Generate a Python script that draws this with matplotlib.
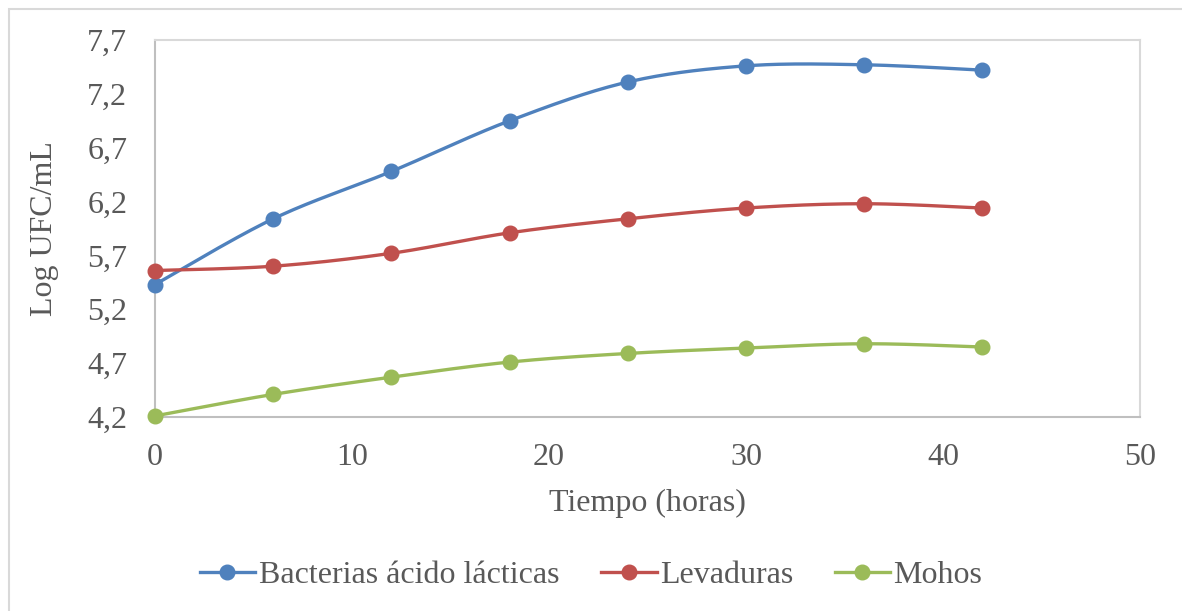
import numpy as np
import matplotlib
matplotlib.use("Agg")
import matplotlib.pyplot as plt
from matplotlib.patches import Rectangle
from matplotlib.lines import Line2D

tiempo = [0, 6, 12, 18, 24, 30, 36, 42]
bacterias = [5.43, 6.04, 6.48, 6.95, 7.31, 7.46, 7.47, 7.42]
levaduras = [5.56, 5.60, 5.72, 5.91, 6.04, 6.14, 6.18, 6.14]
mohos = [4.21, 4.41, 4.57, 4.71, 4.79, 4.84, 4.88, 4.85]
series_names = ["Bacterias ácido lácticas", "Levaduras", "Mohos"]
colors = ["#4F81BD", "#C0504D", "#9BBB59"]
yticks = [4.2, 4.7, 5.2, 5.7, 6.2, 6.7, 7.2, 7.7]
xticks = [0, 10, 20, 30, 40, 50]

plt.rcParams['font.family'] = ['Liberation Serif', 'DejaVu Serif']
txt = "#595959"
fs = 23


def smooth(x, y, n=30):
    x = np.asarray(x, float)
    y = np.asarray(y, float)
    px = np.concatenate([[x[0]], x, [x[-1]]])
    py = np.concatenate([[y[0]], y, [y[-1]]])
    xs, ys = [], []
    t = np.linspace(0, 1, n)
    for i in range(1, len(px) - 2):
        p0 = np.array([px[i], py[i]])
        p3 = np.array([px[i + 1], py[i + 1]])
        c1 = p0 + (np.array([px[i + 1], py[i + 1]]) - np.array([px[i - 1], py[i - 1]])) / 6
        c2 = p3 - (np.array([px[i + 2], py[i + 2]]) - np.array([px[i], py[i]])) / 6
        b = ((1 - t) ** 3)[:, None] * p0 + (3 * (1 - t) ** 2 * t)[:, None] * c1 + \
            (3 * (1 - t) * t ** 2)[:, None] * c2 + (t ** 3)[:, None] * p3
        xs.extend(b[:, 0]); ys.extend(b[:, 1])
    return xs, ys


fig = plt.figure(figsize=(11.82, 6.11), dpi=100)
fig.patches.append(Rectangle((9 / 1182, -0.01), 1.02, 1 - 9 / 611 + 0.01, transform=fig.transFigure,
                             fill=False, edgecolor="#d9d9d9", linewidth=1.5))
ax = fig.add_axes([155 / 1182, 1 - 417 / 611, (1140 - 155) / 1182, (417 - 40) / 611])

for ys, c, name in zip([bacterias, levaduras, mohos], colors, series_names):
    sx, sy = smooth(tiempo, ys)
    ax.plot(sx, sy, color=c, linewidth=2.4, clip_on=False, zorder=3)
    ax.plot(tiempo, ys, linestyle="none", marker="o", markersize=10.5, color=c, clip_on=False, zorder=4)

ax.set_xlim(0, 50)
ax.set_ylim(4.2, 7.7)
ax.set_xticks(xticks)
ax.set_yticks(yticks)
ax.set_yticklabels([f"{v:.1f}".replace(".", ",") for v in yticks])
ax.set_xticklabels([str(v) for v in xticks])
ax.tick_params(length=0, labelsize=fs, labelcolor=txt)
ax.tick_params(axis="y", pad=20)
ax.tick_params(axis="x", pad=19)
for s in ["top", "right"]:
    ax.spines[s].set_color("#d9d9d9")
for s in ["left", "bottom"]:
    ax.spines[s].set_color("#bfbfbf")
for s in ax.spines.values():
    s.set_linewidth(1.5)

ax.set_xlabel("Tiempo (horas)", fontsize=fs, color=txt, labelpad=12)
ax.set_ylabel("Log UFC/mL", fontsize=fs, color=txt, labelpad=20)

handles = [Line2D([0], [0], color=c, linewidth=2.4, marker="o", markersize=10.5) for c in colors]
fig.legend(handles, series_names, loc="center", bbox_to_anchor=(0.5, 1 - 575 / 611), ncol=3,
           frameon=False, fontsize=fs, labelcolor=txt, handlelength=1.75, handletextpad=0.1,
           columnspacing=1.3)

fig.savefig("out.png", dpi=100)
